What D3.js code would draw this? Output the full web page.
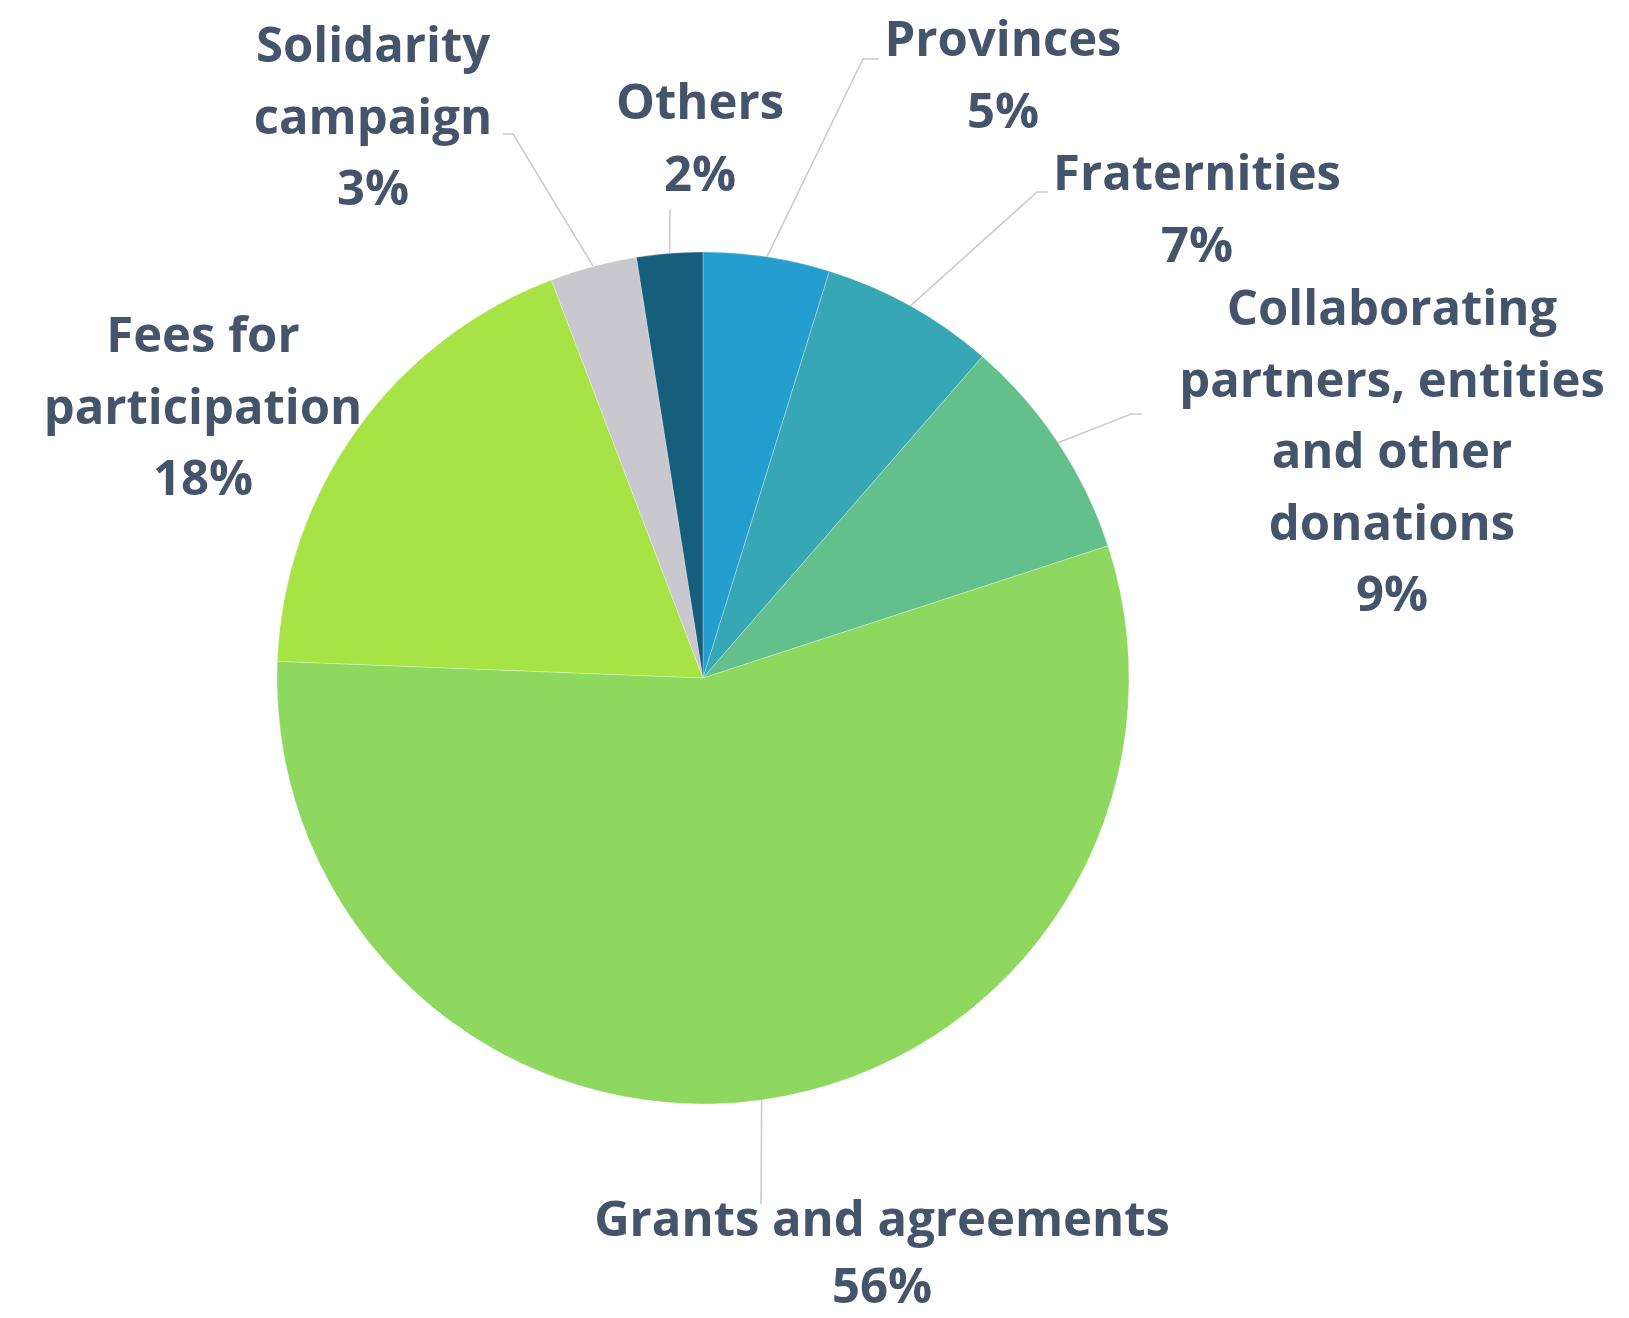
<!DOCTYPE html>
<html>
<head>
<meta charset="utf-8">
<script src="https://cdn.jsdelivr.net/npm/d3@7"></script>
<style>
  html, body { margin: 0; padding: 0; background: #ffffff; }
  svg { display: block; }
  .lbl { font-family: "Open Sans", sans-serif; font-weight: 700; fill: #44546a; }
</style>
</head>
<body>
<svg id="chart" width="1629" height="1318"></svg>
<script>
// ---- data ----
const categories = ["Provinces", "Fraternities", "Collaborating partners, entities and other donations",
                    "Grants and agreements", "Fees for participation", "Solidarity campaign", "Others"];
const values = [4.8, 6.6, 8.6, 55.7, 18.6, 3.3, 2.5];
const pctLabels = ["5%", "7%", "9%", "56%", "18%", "3%", "2%"];
const nameLines = [
  ["Provinces"],
  ["Fraternities"],
  ["Collaborating", "partners, entities", "and other", "donations"],
  ["Grants and agreements"],
  ["Fees for", "participation"],
  ["Solidarity", "campaign"],
  ["Others"]
];
const colors = ["#249ecf", "#37a6b5", "#63bf8b", "#8fd85f", "#a8e346", "#c9c8ce", "#155f7c"];

// ---- layout (positions, not data) ----
const W = 1629, H = 1318;
const cx = 703, cy = 678, R = 426;
const lineH = 71.5;
// label anchor: x centre, first baseline; leader: elbow point and end point (null = none)
const labelLayout = [
  { x: 1003, y: 56,  elbow: [863, 59],  end: [879, 59] },
  { x: 1197, y: 190, elbow: [1037, 192], end: [1048, 192] },
  { x: 1392, y: 325, elbow: [1131, 414], end: [1142, 414] },
  { x: 882,  y: 1236, elbow: null, end: [761, 1204], lh: 67 },
  { x: 203,  y: 352, elbow: null, end: null },
  { x: 373,  y: 62,  elbow: [513, 134], end: [503, 134] },
  { x: 700,  y: 119, elbow: null, end: [670, 209] }
];

const svg = d3.select("#chart");
const g = svg.append("g").attr("transform", `translate(${cx},${cy})`);

const pie = d3.pie().sort(null).value(d => d).startAngle(0).endAngle(2 * Math.PI);
const arcs = pie(values);
const arc = d3.arc().innerRadius(0).outerRadius(R);

g.selectAll("path.slice")
  .data(arcs)
  .enter().append("path")
  .attr("class", "slice")
  .attr("d", arc)
  .attr("fill", (d, i) => colors[i])
  .attr("stroke", "rgba(255,255,255,0.35)")
  .attr("stroke-width", 0.8);

// leader lines from slice mid-angle on the rim
const leaders = svg.append("g");
arcs.forEach((a, i) => {
  const L = labelLayout[i];
  if (!L.end) return;
  const mid = (a.startAngle + a.endAngle) / 2;
  const p0 = [cx + R * Math.sin(mid), cy - R * Math.cos(mid)];
  const pts = [p0];
  if (L.elbow) pts.push(L.elbow);
  pts.push(L.end);
  leaders.append("path")
    .attr("d", d3.line()(pts))
    .attr("fill", "none")
    .attr("stroke", "#cccccc")
    .attr("stroke-width", 1.6);
});

// labels
const labels = svg.append("g");
categories.forEach((c, i) => {
  const L = labelLayout[i];
  const lh = L.lh || lineH;
  const t = labels.append("text")
    .attr("class", "lbl")
    .attr("text-anchor", "middle")
    .attr("font-size", 49);
  const lines = nameLines[i].concat([pctLabels[i]]);
  lines.forEach((ln, k) => {
    t.append("tspan").attr("x", L.x).attr("y", L.y + k * lh).text(ln);
  });
});
</script>
</body>
</html>
